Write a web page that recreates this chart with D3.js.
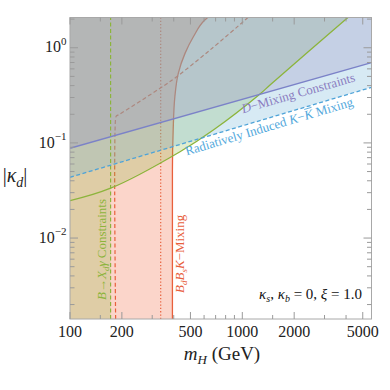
<!DOCTYPE html>
<html><head><meta charset="utf-8">
<script src="https://cdn.jsdelivr.net/npm/d3@7"></script>
<style>
body{margin:0;background:#fff;}
svg text{font-family:"Liberation Serif","Times New Roman",serif;}
</style></head><body><div id="chart"></div>
<script>
// |kappa_d| vs m_H exclusion regions
var xDomain=[100,5620];
var yDomain=[0.00141,2.08];

var xMajor=[100,200,500,1000,2000,5000];
var xMinor=[150,300,400,600,700,800,900,1500,3000,4000];
var yMajor=[1,0.1,0.01];
var yMajorExp=["0","\u22121","\u22122"];

// B_d B_s K mixing: solid boundary (filled), dashed and dotted variants
var mixSolid=[[393,0.00141],[393,0.05],[397,0.137],[406,0.306],[425,0.538],[465,0.873],[520,1.305],[606,1.954],[630,2.08]];
var mixDashed=[[184,0.00141],[184,0.181],[186,0.192],[191,0.197],[333,0.375],[416,0.496],[649,0.946],[1037,1.954],[1077,2.08]];
var mixDotted=[[336,0.00141],[336,2.08]];
// B -> X_d gamma
var bsgCut=172;
var bsgCurve=[[100,0.0247],[172,0.0334],[435,0.0808],[679,0.1366],[1267,0.327],[1448,0.406],[4100,2.08]];
// D mixing, radiatively induced K-Kbar mixing
var dMix=[[100,0.0878],[5620,0.696]];
var kkMix=[[100,0.0435],[5620,0.384]];

var W=390, H=390;
var margin={top:17.5, left:70, right:18.5, bottom:71};
var width=W-margin.left-margin.right, height=H-margin.top-margin.bottom;

var x=d3.scaleLog().domain(xDomain).range([margin.left, margin.left+width]);
var y=d3.scaleLog().domain(yDomain).range([margin.top+height, margin.top]);

var svg=d3.select("#chart").append("svg").attr("width",W).attr("height",H);

svg.append("defs").append("clipPath").attr("id","plotClip")
  .append("rect").attr("x",margin.left).attr("y",margin.top).attr("width",width).attr("height",height);

var plot=svg.append("g").attr("clip-path","url(#plotClip)");

var line=d3.line().x(function(d){return x(d[0]);}).y(function(d){return y(d[1]);});
var smooth=d3.line().x(function(d){return x(d[0]);}).y(function(d){return y(d[1]);}).curve(d3.curveMonotoneY);
var curvy=d3.line().x(function(d){return x(d[0]);}).y(function(d){return y(d[1]);}).curve(d3.curveCatmullRom);
var mLo=xDomain[0], mHi=xDomain[1], kLo=yDomain[0], kHi=yDomain[1];

// close a curve path with straight segments through the given corners
function closeWith(path, corners){
  return path+corners.map(function(c){return "L"+x(c[0])+","+y(c[1]);}).join("")+"Z";
}

var red="#e8603c", green="#8cb43c";

// pink region (left of the solid mixing curve)
plot.append("path")
  .attr("d", closeWith(smooth(mixSolid), [[mLo,kHi],[mLo,kLo]]))
  .attr("fill","rgba(240,100,60,0.27)");

// red lines (under the other fills)
plot.append("path").attr("d",smooth(mixSolid)).attr("fill","none").attr("stroke",red).attr("stroke-width",1.3);
plot.append("path").attr("d",curvy(mixDashed))
  .attr("fill","none").attr("stroke",red).attr("stroke-width",1.2).attr("stroke-dasharray","4,2.5");
plot.append("path").attr("d",line(mixDotted)).attr("fill","none").attr("stroke",red).attr("stroke-width",1.2).attr("stroke-dasharray","1.3,2");

// green region
var bsgUpper=bsgCurve.filter(function(d){return d[0]>=bsgCut;});
plot.append("path")
  .attr("d", closeWith(curvy(bsgUpper), [[mLo,kHi],[mLo,kLo],[bsgCut,kLo]]))
  .attr("fill","rgba(140,185,60,0.25)");

// light blue (K-Kbar) and lavender (D mixing)
plot.append("path").attr("d",closeWith(line(kkMix),[[mHi,kHi],[mLo,kHi]])).attr("fill","rgba(110,180,215,0.28)");
plot.append("path").attr("d",closeWith(line(dMix),[[mHi,kHi],[mLo,kHi]])).attr("fill","rgba(150,140,190,0.28)");

// green lines
plot.append("path").attr("d",curvy(bsgCurve)).attr("fill","none").attr("stroke",green).attr("stroke-width",1.3);
plot.append("path").attr("d",line([[bsgCut,kLo],[bsgCut,kHi]])).attr("fill","none").attr("stroke",green).attr("stroke-width",1.2).attr("stroke-dasharray","4,2.5");

// blue lines
plot.append("path").attr("d",line(dMix)).attr("fill","none").attr("stroke","#7b82c8").attr("stroke-width",1.3);
plot.append("path").attr("d",line(kkMix)).attr("fill","none").attr("stroke","#4ea3d8").attr("stroke-width",1.3).attr("stroke-dasharray","4,2.5");

// frame and ticks
var axisCol="#9a9a9a";
svg.append("rect").attr("x",margin.left).attr("y",margin.top).attr("width",width).attr("height",height)
  .attr("fill","none").attr("stroke","#a8a8a8").attr("stroke-width",1);

var tk=svg.append("g").attr("stroke",axisCol).attr("stroke-width",1);
var yB=margin.top+height, yT=margin.top, xL=margin.left, xR=margin.left+width;
function xTicks(vals,len){
  vals.forEach(function(v){
    tk.append("line").attr("x1",x(v)).attr("x2",x(v)).attr("y1",yB).attr("y2",yB-len);
    tk.append("line").attr("x1",x(v)).attr("x2",x(v)).attr("y1",yT).attr("y2",yT+len);
  });
}
function yTicks(vals,len){
  vals.forEach(function(v){
    tk.append("line").attr("y1",y(v)).attr("y2",y(v)).attr("x1",xL).attr("x2",xL+len);
    tk.append("line").attr("y1",y(v)).attr("y2",y(v)).attr("x1",xR).attr("x2",xR-len);
  });
}
xTicks(xMajor,7); xTicks(xMinor,4);
yTicks(yMajor,8);
yTicks(y.ticks().filter(function(v){return Math.abs(Math.log10(v)-Math.round(Math.log10(v)))>1e-6;}),4.5);

// tick labels
svg.append("g").selectAll("text").data(xMajor).join("text")
  .attr("x",function(d){return x(d);}).attr("y",337).attr("text-anchor","middle")
  .attr("font-size",16).attr("fill","#222").text(function(d){return d;});

var yl=svg.append("g").selectAll("text").data(yMajor).join("text")
  .attr("x",66.5).attr("y",function(d){return y(d)+4.6;}).attr("text-anchor","end")
  .attr("font-size",16).attr("fill","#222");
yl.append("tspan").text("10");
yl.append("tspan").attr("dy",-7.3).attr("font-size",11).text(function(d,i){return yMajorExp[i];});

// axis titles
var xt=svg.append("text").attr("x",222).attr("y",360).attr("text-anchor","middle").attr("font-size",19).attr("fill","#222");
xt.append("tspan").attr("font-style","italic").text("m");
xt.append("tspan").attr("font-style","italic").attr("font-size",13).attr("dy",4).text("H");
xt.append("tspan").attr("dy",-4).text(" (GeV)");

var yt=svg.append("text").attr("x",15).attr("y",182).attr("text-anchor","middle").attr("font-size",20).attr("fill","#222");
yt.append("tspan").text("|");
yt.append("tspan").attr("font-style","italic").text("\u03ba");
yt.append("tspan").attr("font-style","italic").attr("font-size",14).attr("dy",5).text("d");
yt.append("tspan").attr("dy",-5).text("|");

// region labels
var g1=svg.append("g").attr("transform","translate("+(x(bsgCut)-4.5)+","+(yB-19)+") rotate(-90)");
var t1=g1.append("text").attr("font-size",13).attr("fill",green);
t1.append("tspan").attr("font-style","italic").text("B");
t1.append("tspan").text("\u2192");
t1.append("tspan").attr("font-style","italic").text("X");
t1.append("tspan").attr("font-style","italic").attr("font-size",9).attr("dy",3).text("d");
t1.append("tspan").attr("font-style","italic").attr("dy",-3).text("\u03b3");
t1.append("tspan").text(" Constraints");

var g2=svg.append("g").attr("transform","translate("+(x(mixSolid[0][0])+11.5)+","+(yB-26)+") rotate(-90)");
var t2=g2.append("text").attr("font-size",13).attr("fill",red);
t2.append("tspan").attr("font-style","italic").text("B");
t2.append("tspan").attr("font-style","italic").attr("font-size",9).attr("dy",3).text("d");
t2.append("tspan").attr("font-style","italic").attr("dy",-3).text("B");
t2.append("tspan").attr("font-style","italic").attr("font-size",9).attr("dy",3).text("s");
t2.append("tspan").attr("font-style","italic").attr("dy",-3).text("K");
t2.append("tspan").text("\u2212Mixing");

function along(l,m){
  var x1=x(l[0][0]),y1=y(l[0][1]),x2=x(l[1][0]),y2=y(l[1][1]);
  var px=x(m), t=(px-x1)/(x2-x1);
  return [px, y1+t*(y2-y1), Math.atan2(y2-y1,x2-x1)*180/Math.PI];
}
var p3=along(dMix,960);
var t3=svg.append("g").attr("transform","translate("+p3[0]+","+p3[1]+") rotate("+p3[2]+")")
  .append("text").attr("y",13.5).attr("font-size",13).attr("fill","#8a7cc0");
t3.append("tspan").attr("font-style","italic").text("D");
t3.append("tspan").text("\u2212Mixing Constraints");

var p4=along(kkMix,453);
var g4=svg.append("g").attr("transform","translate("+p4[0]+","+p4[1]+") rotate("+p4[2]+")");
var t4=g4.append("text").attr("y",12.5).attr("font-size",13).attr("fill","#52a8dc");
t4.append("tspan").text("Radiatively Induced ");
t4.append("tspan").attr("font-style","italic").text("K");
t4.append("tspan").text("\u2212");
t4.append("tspan").attr("font-style","italic").text("K");
t4.append("tspan").text(" Mixing");
// bar over the second K
var kIdx=t4.text().lastIndexOf("K");
var kS=t4.node().getStartPositionOfChar(kIdx), kE=t4.node().getEndPositionOfChar(kIdx);
g4.append("line").attr("x1",kS.x+1.5).attr("x2",kE.x+0.5).attr("y1",12.5-10.5).attr("y2",12.5-10.5)
  .attr("stroke","#52a8dc").attr("stroke-width",0.8);

var t5=svg.append("text").attr("x",362).attr("y",299).attr("text-anchor","end").attr("font-size",15).attr("fill","#111");
t5.append("tspan").attr("font-style","italic").text("\u03ba");
t5.append("tspan").attr("font-style","italic").attr("font-size",10).attr("dy",3).text("s");
t5.append("tspan").attr("dy",-3).text(", ");
t5.append("tspan").attr("font-style","italic").text("\u03ba");
t5.append("tspan").attr("font-style","italic").attr("font-size",10).attr("dy",3).text("b");
t5.append("tspan").attr("dy",-3).text(" = 0, ");
t5.append("tspan").attr("font-style","italic").text("\u03be");
t5.append("tspan").text(" = 1.0");
</script></body></html>
